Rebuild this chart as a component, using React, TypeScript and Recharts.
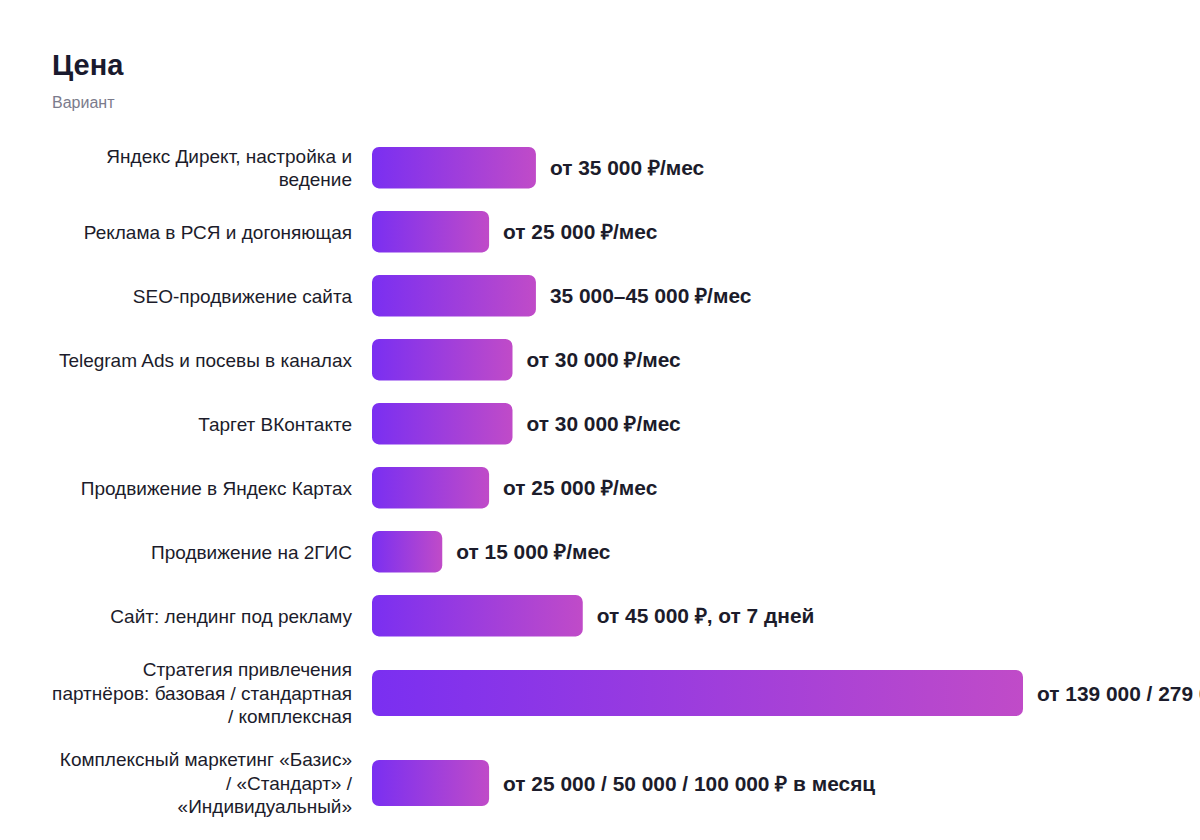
import React from 'react';
import { BarChart, Bar, XAxis, YAxis, LabelList } from 'recharts';

const categories: string[] = [
  'Яндекс Директ, настройка и\nведение',
  'Реклама в РСЯ и догоняющая',
  'SEO-продвижение сайта',
  'Telegram Ads и посевы в каналах',
  'Таргет ВКонтакте',
  'Продвижение в Яндекс Картах',
  'Продвижение на 2ГИС',
  'Сайт: лендинг под рекламу',
  'Стратегия привлечения\nпартнёров: базовая / стандартная\n/ комплексная',
  'Комплексный маркетинг «Базис»\n/ «Стандарт» /\n«Индивидуальный»',
];

const values: number[] = [35000, 25000, 35000, 30000, 30000, 25000, 15000, 45000, 139000, 25000];

const valueLabels: string[] = [
  'от 35 000 ₽/мес',
  'от 25 000 ₽/мес',
  '35 000–45 000 ₽/мес',
  'от 30 000 ₽/мес',
  'от 30 000 ₽/мес',
  'от 25 000 ₽/мес',
  'от 15 000 ₽/мес',
  'от 45 000 ₽, от 7 дней',
  'от 139 000 / 279 000 ₽',
  'от 25 000 / 50 000 / 100 000 ₽ в месяц',
];

const FONT = '"Liberation Sans", Arial, Helvetica, sans-serif';
const TEXT = '#1c1c2b';
const MAX = Math.max(...values);

const CatTick = (props: any) => {
  const { y, payload } = props;
  const lines = String(payload.value).split('\n');
  const lh = 23.5;
  const start = y - ((lines.length - 1) * lh) / 2;
  return (
    <text x={352} y={start} textAnchor="end" fill={TEXT} fontSize={19} fontFamily={FONT}>
      {lines.map((l, k) => (
        <tspan key={k} x={352} y={start + k * lh} dominantBaseline="central">
          {l}
        </tspan>
      ))}
    </text>
  );
};

const ValueLabel = (props: any) => {
  const { x, y, width, height, value } = props;
  return (
    <text
      x={x + width + 14}
      y={y + height / 2}
      dominantBaseline="central"
      fill={TEXT}
      fontSize={20.9}
      fontWeight={700}
      fontFamily={FONT}
    >
      {value}
    </text>
  );
};

function Row({ i }: { i: number }) {
  const lines = categories[i].split('\n').length;
  const h = lines > 2 ? 72 : 46;
  const data = [{ name: categories[i], value: values[i], label: valueLabels[i] }];
  return (
    <BarChart
      width={1200}
      height={h}
      data={data}
      layout="vertical"
      margin={{ top: 0, right: 177, bottom: 0, left: 0 }}
      barCategoryGap={0}
    >
      <defs>
        <linearGradient id={`grad${i}`} x1="0" y1="0" x2="1" y2="0">
          <stop offset="0" stopColor="#7a2ff1" />
          <stop offset="1" stopColor="#c04bc8" />
        </linearGradient>
      </defs>
      <XAxis type="number" domain={[0, MAX]} hide />
      <YAxis
        type="category"
        dataKey="name"
        width={372}
        axisLine={false}
        tickLine={false}
        tick={<CatTick />}
        interval={0}
      />
      <Bar dataKey="value" barSize={46} fill={`url(#grad${i})`} radius={7} isAnimationActive={false}>
        <LabelList dataKey="label" content={<ValueLabel />} />
      </Bar>
    </BarChart>
  );
}

export default function App() {
  return (
    <div
      style={{
        position: 'absolute',
        left: 0,
        top: 0,
        width: 1200,
        height: 840,
        overflow: 'hidden',
        background: '#ffffff',
        fontFamily: FONT,
      }}
    >
      <div
        style={{
          position: 'absolute',
          left: 52,
          top: 50,
          fontSize: 29,
          lineHeight: '30px',
          fontWeight: 700,
          color: '#1a1a2e',
        }}
      >
        Цена
      </div>
      <div
        style={{
          position: 'absolute',
          left: 52,
          top: 95,
          fontSize: 16,
          lineHeight: '15px',
          color: '#7b7b8c',
        }}
      >
        Вариант
      </div>
      <div
        style={{
          position: 'absolute',
          left: 0,
          top: 145,
          width: 1200,
          display: 'flex',
          flexDirection: 'column',
          gap: 18,
        }}
      >
        {categories.map((_, i) => (
          <Row key={i} i={i} />
        ))}
      </div>
    </div>
  );
}
